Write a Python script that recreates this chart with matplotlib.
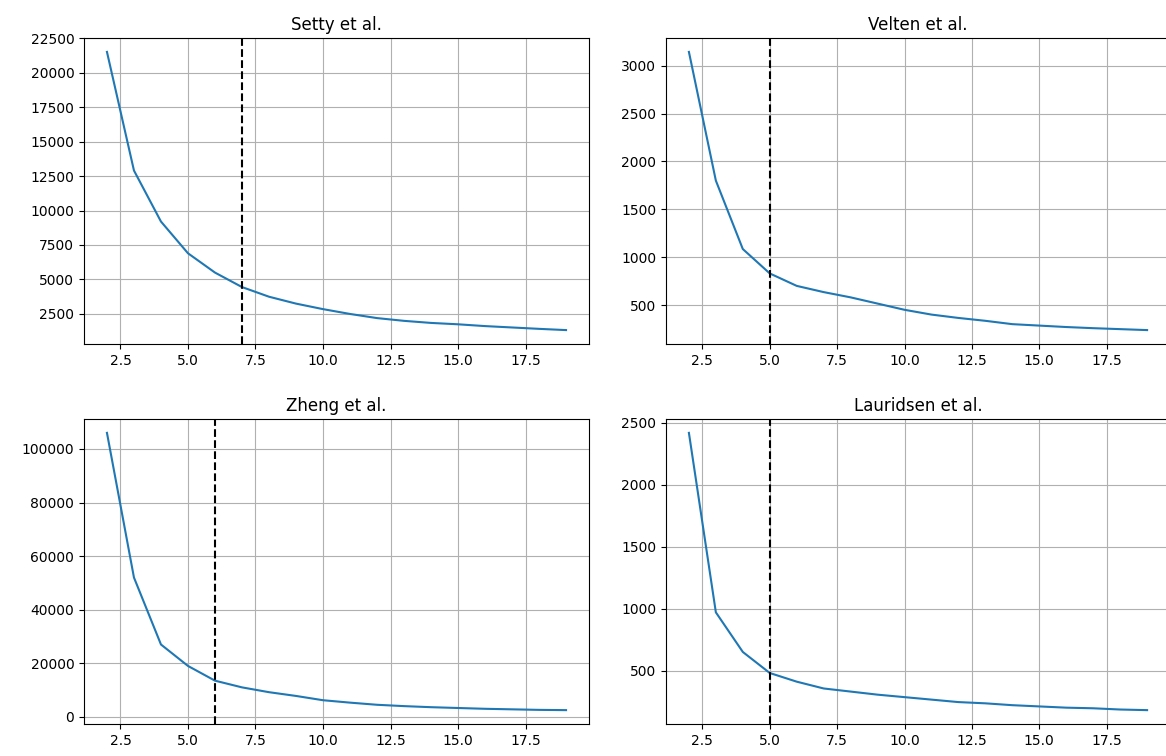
import numpy as np
import matplotlib
matplotlib.use('Agg')
import matplotlib.pyplot as plt

# Number of clusters (x) and the elbow criterion values for each dataset
k = list(range(2, 20))

setty = [21500, 12900, 9200, 6900, 5500, 4450, 3750, 3250, 2850,
         2500, 2200, 2000, 1850, 1750, 1620, 1520, 1420, 1330]
velten = [3145, 1800, 1085, 830, 700, 635, 580, 515, 450,
          400, 365, 335, 300, 285, 270, 258, 248, 238]
zheng = [106000, 52000, 27000, 19000, 13500, 11000, 9200, 7800, 6200,
         5300, 4500, 4000, 3600, 3300, 3000, 2800, 2600, 2500]
lauridsen = [2420, 970, 650, 480, 410, 355, 330, 305, 285,
             265, 245, 235, 220, 210, 200, 195, 185, 180]

titles = ['Setty et al.', 'Velten et al.', 'Zheng et al.', 'Lauridsen et al.']
series = [setty, velten, zheng, lauridsen]
elbows = [7, 5, 6, 5]

W, H = 1166, 756
fig = plt.figure(figsize=(W / 100, H / 100), dpi=100)

# axes boxes in pixels: (left, top, right, bottom)
boxes = [(84, 38, 589, 344), (666, 38, 1170, 344),
         (84, 419, 589, 724), (666, 419, 1170, 724)]

for (l, t, r, b), title, vals, elbow in zip(boxes, titles, series, elbows):
    ax = fig.add_axes([l / W, 1 - b / H, (r - l) / W, (b - t) / H])
    ax.plot(k, vals, color='#1f77b4')
    ax.axvline(elbow, color='black', linestyle='--')
    ax.set_title(title)
    ax.grid(True)

fig.savefig('out.png', dpi=100)
